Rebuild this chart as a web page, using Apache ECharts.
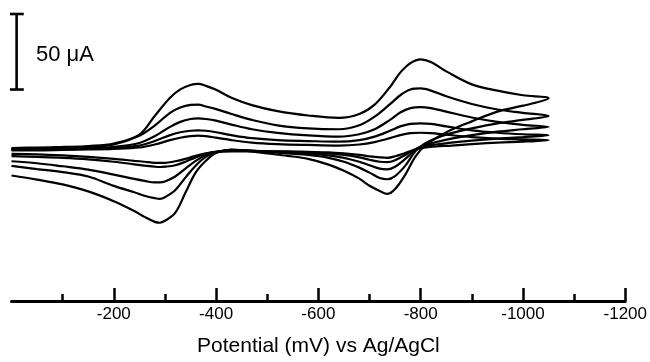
<!DOCTYPE html>
<html><head><meta charset="utf-8">
<script src="https://cdn.jsdelivr.net/npm/echarts@6/dist/echarts.min.js"></script>
<style>html,body{margin:0;padding:0;background:#fff}#c{width:650px;height:362px}</style>
</head><body><div id="c"></div>
<script>
// Potential (mV vs Ag/AgCl), forward scan 0 -> -1050, reverse scan -1050 -> 0
const potentialForward = [0,-50,-100,-150,-200,-250,-280,-310,-330,-350,-365,-380,-400,-430,-470,-520,-580,-640,-680,-710,-740,-760,-780,-800,-820,-850,-900,-950,-1000,-1050];
const potentialReverse = [-1000,-950,-900,-860,-830,-810,-790,-770,-750,-735,-720,-700,-680,-650,-620,-580,-540,-500,-460,-430,-400,-380,-360,-340,-320,-300,-290,-280,-260,-240,-200,-150,-100,-50,0];

// Current (µA), five scan rates, largest first
const forwardA = [1.3,1.6,2.0,2.6,4.2,10.2,22.5,34.6,40.1,43.0,43.7,42.4,39.8,34.6,29.7,25.7,22.8,21.2,23.8,30.0,41.7,51.2,57.5,60.0,58.2,52.0,43.4,39.3,36.2,34.2];
const forwardB = [0.7,0.7,1.0,1.6,3.6,9.4,16.1,24.6,28.1,29.8,30.0,28.8,27.0,23.8,19.9,16.3,14.3,13.7,16.3,22.0,30.3,36.2,40.0,40.7,39.3,35.5,30.4,26.8,24.6,22.5];
const forwardC = [0.3,0.3,0.7,1.0,2.0,4.6,9.1,15.3,18.6,20.5,20.9,20.5,19.4,16.8,13.7,11.3,9.6,8.8,10.4,13.7,19.9,24.8,27.7,28.4,27.7,25.4,21.5,18.6,16.6,15.3];
const forwardD = [0,0,0.3,0.7,1.3,2.9,5.9,9.8,11.7,12.7,13.0,12.7,11.7,9.8,7.8,6.5,5.9,5.5,6.5,8.8,12.7,15.6,17.3,17.6,17.3,15.6,13.0,11.4,10.4,9.8];
const forwardE = [-0.3,-0.3,0,0.3,0.7,1.6,3.6,6.5,8.1,9.1,9.5,9.1,8.1,6.5,4.9,3.9,3.3,2.9,3.6,5.2,7.8,9.8,11.1,11.4,11.1,10.1,8.5,7.5,7.0,6.5];

const reverseA = [29.3,25.4,18.9,13.4,7.8,3.5,-4.3,-16.3,-25.9,-29.1,-27.2,-23.7,-19.0,-13.8,-9.7,-5.9,-3.9,-2.3,-0.7,0.3,-2.0,-7.2,-15.0,-28.4,-41.7,-46.9,-48.2,-47.6,-44.3,-40.4,-33.9,-27.4,-22.8,-19.6,-16.9];
const reverseB = [19.9,17.6,14.3,11.1,7.8,4.6,-0.7,-10.4,-17.3,-19.4,-18.6,-15.0,-11.7,-7.8,-5.2,-3.3,-2.3,-1.3,-0.3,0,-1.6,-4.6,-10.4,-18.3,-26.7,-31.3,-32.4,-31.9,-30.3,-28.0,-23.8,-17.6,-14.7,-12.7,-10.6];
const reverseC = [13.7,12.1,9.8,7.5,5.2,3.3,0,-5.9,-11.1,-12.8,-12.4,-10.1,-7.8,-5.2,-3.6,-2.3,-1.6,-1.0,-0.3,-0.3,-1.3,-3.3,-7.2,-12.4,-17.6,-20.9,-21.5,-21.5,-20.5,-19.2,-16.3,-13.0,-10.8,-8.8,-7.5];
const reverseD = [8.5,7.5,6.2,4.9,3.6,2.6,0.7,-3.3,-6.8,-8.1,-7.8,-6.5,-4.9,-3.3,-2.3,-1.6,-1.3,-1.0,-0.7,-0.7,-1.3,-2.6,-4.9,-7.8,-10.1,-11.1,-11.3,-11.1,-10.4,-9.5,-7.8,-6.2,-5.2,-4.6,-4.1];
const reverseE = [5.5,4.9,3.9,2.9,2.3,1.6,0.3,-2.0,-4.2,-5.2,-4.9,-4.2,-3.3,-2.3,-1.6,-1.3,-1.0,-1.0,-1.0,-1.0,-1.3,-2.3,-3.9,-5.9,-7.5,-8.5,-8.5,-8.5,-7.8,-7.2,-5.9,-4.6,-3.6,-2.9,-2.6];

const tickLabels = [-200,-400,-600,-800,-1000,-1200];
const axisTitle = 'Potential (mV) vs Ag/AgCl';

// scale bar: 50 µA
const scaleBarLabel = '50 \u03bcA';
const scaleBarPotential = -10;
const scaleBarTopCurrent = 90;
const scaleBarSpan = 50;
const scaleBarCapHalf = 14;

const curves = [
  [forwardA, reverseA],
  [forwardB, reverseB],
  [forwardC, reverseC],
  [forwardD, reverseD],
  [forwardE, reverseE]
];

function buildCurve(fwd, rev) {
  const pts = [];
  potentialForward.forEach((e, i) => pts.push([e, fwd[i]]));
  potentialReverse.forEach((e, i) => pts.push([e, rev[i]]));
  return pts;
}

const series = curves.map((c, k) => ({
  type: 'line',
  name: 'scan ' + (k + 1),
  data: buildCurve(c[0], c[1]),
  showSymbol: false,
  smooth: 0.35,
  lineStyle: { color: '#000', width: 2.2 },
  animation: false,
  silent: true
}));

const barStyle = { color: '#000', width: 2.6 };
const yb = scaleBarTopCurrent - scaleBarSpan;
[
  [[scaleBarPotential, scaleBarTopCurrent], [scaleBarPotential, yb]],
  [[scaleBarPotential + scaleBarCapHalf, scaleBarTopCurrent], [scaleBarPotential - scaleBarCapHalf, scaleBarTopCurrent]],
  [[scaleBarPotential + scaleBarCapHalf, yb], [scaleBarPotential - scaleBarCapHalf, yb]]
].forEach(seg => series.push({
  type: 'line', data: seg, showSymbol: false, clip: false,
  lineStyle: barStyle, animation: false, silent: true
}));

const chart = echarts.init(document.getElementById('c'), null, { renderer: 'canvas' });
chart.setOption({
  animation: false,
  backgroundColor: '#fff',
  grid: { left: 11.5, right: 21.7, top: 14, bottom: 56.5 },
  xAxis: {
    type: 'value',
    inverse: true,
    min: -1200, max: 0, interval: 200,
    axisLine: { onZero: false, lineStyle: { color: '#000', width: 3 } },
    axisTick: { show: true, inside: true, length: 13, customValues: tickLabels, lineStyle: { color: '#000', width: 2.5 } },
    minorTick: { show: true, splitNumber: 2, length: 7, lineStyle: { color: '#000', width: 2.5 } },
    splitLine: { show: false },
    axisLabel: {
      customValues: tickLabels,
      formatter: v => String(v),
      color: '#000', fontFamily: 'Liberation Sans, Arial, sans-serif', fontSize: 17, margin: 5
    },
    name: axisTitle,
    nameLocation: 'middle',
    nameGap: 35,
    nameTextStyle: { color: '#000', fontFamily: 'Liberation Sans, Arial, sans-serif', fontSize: 21 }
  },
  yAxis: {
    type: 'value', min: -100, max: 90, show: false,
    splitLine: { show: false }
  },
  graphic: [{
    type: 'text', left: 36, top: 44,
    style: { text: scaleBarLabel, fill: '#000', font: '22px "Liberation Sans", Arial, sans-serif' }
  }],
  series: series
});
</script></body></html>
